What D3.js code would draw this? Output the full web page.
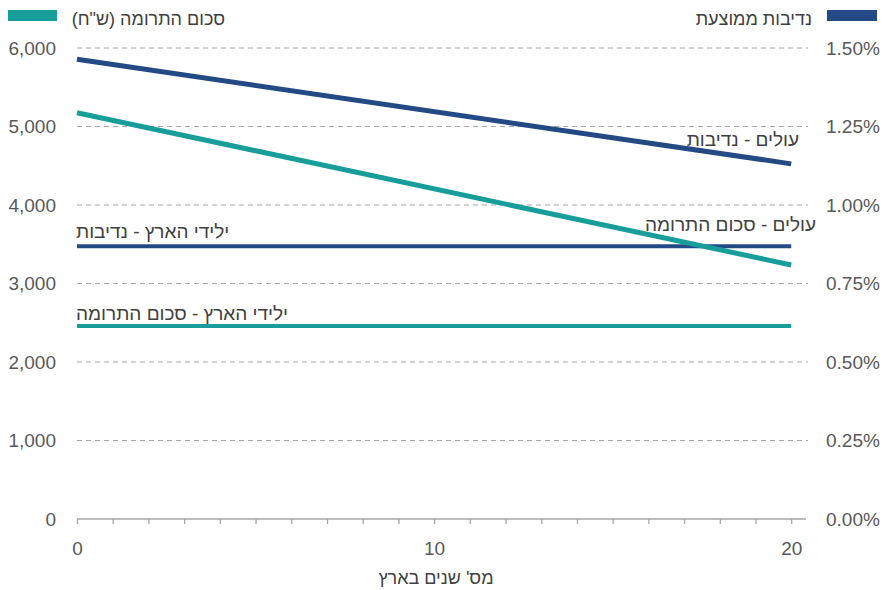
<!DOCTYPE html>
<html><head><meta charset="utf-8">
<script src="https://cdn.jsdelivr.net/npm/d3@7"></script>
<style>
body{margin:0;background:#fff;}
svg{display:block;font-family:"Liberation Sans",Arial,sans-serif;}
</style></head>
<body><svg id="c" width="887" height="590"></svg>
<script>
// Data
const years = [0, 20];
const olimGenerosity = [1.464, 1.131];      // % (right axis)
const olimDonation = [5176, 3236];          // NIS (left axis)
const nativeGenerosity = [0.8685, 0.8685];  // %
const nativeDonation = [2459, 2459];        // NIS
const leftTicks = [0, 1000, 2000, 3000, 4000, 5000, 6000];
const rightTicks = [0, 0.25, 0.5, 0.75, 1.0, 1.25, 1.5];
const xTicks = d3.range(0, 21);
const xLabels = [0, 10, 20];

const RLM = "\u200F";
const teal = "#179e9a", navy = "#234a85";
const svg = d3.select("#c");

const x = d3.scaleLinear().domain([0, 20.47]).range([77, 808]);
const yL = d3.scaleLinear().domain([0, 6000]).range([519, 48]);
const yR = d3.scaleLinear().domain([0, 1.5]).range([519, 48]);

// gridlines
svg.append("g").selectAll("line").data(leftTicks.slice(1)).join("line")
  .attr("x1", 77).attr("x2", 808)
  .attr("y1", d => yL(d)).attr("y2", d => yL(d))
  .attr("stroke", "#a6a6a6").attr("stroke-width", 1).attr("stroke-dasharray", "5,4");

// left axis
const gl = svg.append("g").attr("transform", "translate(77,0)")
  .call(d3.axisLeft(yL).tickValues(leftTicks).tickSize(0).tickPadding(21).tickFormat(d3.format(",")));
gl.select(".domain").remove();
gl.selectAll("text").attr("font-size", 19).attr("fill", "#595959").attr("font-family", null);

// right axis
const gr = svg.append("g").attr("transform", "translate(808,0)")
  .call(d3.axisRight(yR).tickValues(rightTicks).tickSize(0).tickPadding(18).tickFormat(d => d.toFixed(2) + "%"));
gr.select(".domain").remove();
gr.selectAll("text").attr("font-size", 19).attr("fill", "#595959").attr("font-family", null);

// x axis
const gx = svg.append("g").attr("transform", "translate(0,519)")
  .call(d3.axisBottom(x).tickValues(xTicks).tickSize(5).tickPadding(18)
    .tickFormat(d => xLabels.includes(d) ? d : ""));
gx.select(".domain").attr("d", "M77,0H806").attr("stroke", "#a6a6a6").attr("stroke-width", 1.3);
gx.selectAll(".tick line").attr("stroke", "#a6a6a6").attr("stroke-width", 1.3);
gx.selectAll("text").attr("font-size", 19).attr("fill", "#595959").attr("font-family", null);

// x title
svg.append("text").attr("x", 436).attr("y", 584).attr("text-anchor", "middle")
  .attr("font-size", 18).attr("fill", "#404040").text(RLM + "מס' שנים בארץ" + RLM);

// lines
const mk = (ys, yScale) => d3.line().x((d, i) => x(years[i])).y(d => yScale(d))(ys);
svg.append("path").attr("d", mk(nativeDonation, yL)).attr("fill", "none").attr("stroke", teal).attr("stroke-width", 4);
svg.append("path").attr("d", mk(nativeGenerosity, yR)).attr("fill", "none").attr("stroke", navy).attr("stroke-width", 4);
svg.append("path").attr("d", mk(olimDonation, yL)).attr("fill", "none").attr("stroke", teal).attr("stroke-width", 5);
svg.append("path").attr("d", mk(olimGenerosity, yR)).attr("fill", "none").attr("stroke", navy).attr("stroke-width", 5);

// line labels
const labels = [
  {t: "עולים - נדיבות", x: 799, y: 146, a: "end"},
  {t: "עולים - סכום התרומה", x: 816, y: 231, a: "end"},
  {t: "ילידי הארץ - נדיבות", x: 76, y: 238, a: "start"},
  {t: "ילידי הארץ - סכום התרומה", x: 76, y: 320, a: "start"}
];
svg.append("g").selectAll("text").data(labels).join("text")
  .attr("x", d => d.x).attr("y", d => d.y).attr("text-anchor", d => d.a)
  .attr("font-size", 19).attr("fill", "#404040").text(d => RLM + d.t + RLM);

// legend
svg.append("rect").attr("x", 8).attr("y", 10).attr("width", 49).attr("height", 11).attr("fill", teal);
svg.append("text").attr("x", 225).attr("y", 25).attr("text-anchor", "end")
  .attr("font-size", 18).attr("fill", "#404040").text(RLM + "סכום התרומה (ש\"ח)" + RLM);
svg.append("rect").attr("x", 827).attr("y", 10).attr("width", 50).attr("height", 11).attr("fill", navy);
svg.append("text").attr("x", 812).attr("y", 25).attr("text-anchor", "end")
  .attr("font-size", 18).attr("fill", "#404040").text(RLM + "נדיבות ממוצעת" + RLM);
</script></body></html>
